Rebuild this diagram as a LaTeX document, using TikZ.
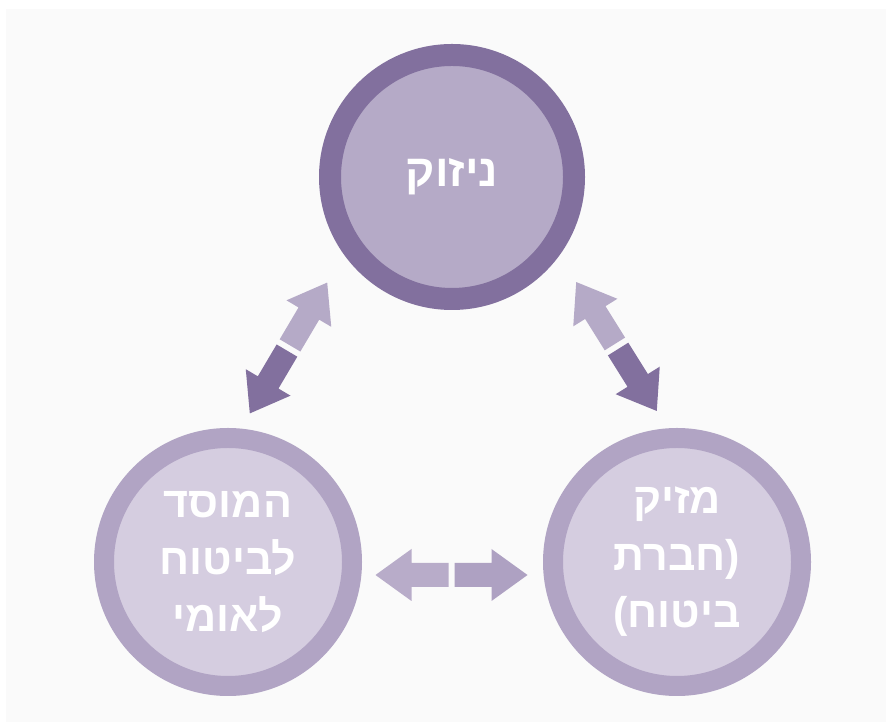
\documentclass[tikz,border=0pt]{standalone}
\usepackage{fontspec}
\newfontfamily\heb[Script=Hebrew]{Liberation Sans}
\TeXXeTstate=1
\definecolor{topring}{RGB}{130,112,158}
\definecolor{topinner}{RGB}{181,170,199}
\definecolor{botring}{RGB}{177,164,196}
\definecolor{botinner}{RGB}{213,205,224}
\definecolor{darkarrow}{RGB}{130,112,158}
\definecolor{lightarrow}{RGB}{181,170,199}
\definecolor{harrowA}{RGB}{184,172,201}
\definecolor{harrowB}{RGB}{174,161,194}
\definecolor{bggray}{RGB}{250,250,250}
\tikzset{
  ringnode/.style={circle, inner sep=0pt, text=white, align=center,
    font=\heb\bfseries\fontsize{45}{57}\selectfont},
  topcircle/.style={ringnode, minimum size=244pt, line width=22pt, draw=topring, fill=topinner},
  botcircle/.style={ringnode, minimum size=248pt, line width=20pt, draw=botring, fill=botinner,
    font=\heb\bfseries\fontsize{43}{57}\selectfont},
  pics/halfarrow/.style={code={
    \fill[#1] (3,-12) -- (40,-12) -- (40,-26) -- (76,0) -- (40,26) -- (40,12) -- (3,12) -- cycle;
  }}
}
\begin{document}
\begin{tikzpicture}[x=1pt,y=1pt]
\useasboundingbox (0,0) rectangle (886,722);
\fill[white] (0,0) rectangle (886,722);
\fill[bggray] (6,0) rectangle (886,713);

\node[topcircle] (top) at (452,545) {\beginR ניזוק\endR};
\node[botcircle] (left) at (228,160) {\beginR המוסד\endR\\ \beginR לביטוח\endR\\ \beginR לאומי\endR};
\node[botcircle] (right) at (677,160) {\beginR מזיק\endR\\
  \beginR חברת\endR(\\
  )\beginR ביטוח\endR};

\coordinate (arrL) at (288.5,374);
\coordinate (arrR) at (616.5,375.5);
\coordinate (arrH) at (451.5,147);

\pic[rotate=59.4] at (arrL) {halfarrow=lightarrow};
\pic[rotate=239.4] at (arrL) {halfarrow=darkarrow};
\pic[rotate=122] at (arrR) {halfarrow=lightarrow};
\pic[rotate=302] at (arrR) {halfarrow=darkarrow};
\pic[rotate=180] at (arrH) {halfarrow=harrowA};
\pic[rotate=0] at (arrH) {halfarrow=harrowB};
\end{tikzpicture}
\end{document}
